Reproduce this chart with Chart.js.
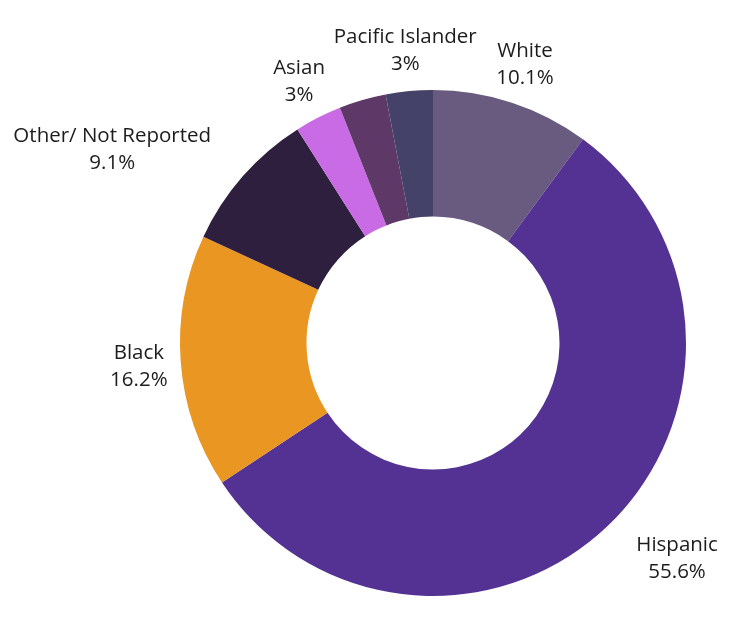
<!DOCTYPE html>
<html>
<head>
<meta charset="utf-8">
<script src="https://cdn.jsdelivr.net/npm/chart.js@4/dist/chart.umd.min.js"></script>
<style>
  html, body { margin: 0; padding: 0; background: #ffffff; }
  #wrap { width: 729px; height: 621px; }
</style>
</head>
<body>
<div id="wrap"><canvas id="raceChart" width="729" height="621"></canvas></div>
<script>
// data (one small slice has no visible label)
const categories = ['White', 'Hispanic', 'Black', 'Other/ Not Reported', 'Asian', '', 'Pacific Islander'];
const shares = [10.1, 55.6, 16.2, 9.1, 3, 3, 3];
const shareLabels = ['10.1%', '55.6%', '16.2%', '9.1%', '3%', '', '3%'];

const sliceColors = ['#695a80', '#533293', '#e99623', '#2e1f3f', '#c96be5', '#5e3866', '#454269'];
// how each label block sits against its anchor point
const labelAlign = ['center', 'left', 'center', 'right', 'center', 'center', 'center'];

const outsideLabels = {
    id: 'outsideLabels',
    afterDatasetsDraw(chart) {
        const ctx = chart.ctx;
        const arcs = chart.getDatasetMeta(0).data;
        ctx.save();
        ctx.font = '20.5px "Open Sans", sans-serif';
        ctx.fillStyle = '#1c1c1c';
        ctx.textBaseline = 'middle';
        arcs.forEach(function(arc, i) {
            if (!categories[i]) return;
            const p = arc.getProps(['x', 'y', 'startAngle', 'endAngle', 'outerRadius'], true);
            const mid = (p.startAngle + p.endAngle) / 2;
            const r = p.outerRadius + 42;
            const ax = p.x + Math.cos(mid) * r;
            const ay = p.y + Math.sin(mid) * r + 1.5;
            const lines = [categories[i], shareLabels[i]];
            const w = Math.max.apply(null, lines.map(t => ctx.measureText(t).width));
            let cx = ax;
            if (labelAlign[i] === 'left') cx = ax + w / 2;
            if (labelAlign[i] === 'right') cx = ax - w / 2;
            ctx.textAlign = 'center';
            ctx.fillText(lines[0], cx, ay - 13.5);
            ctx.fillText(lines[1], cx, ay + 13.5);
        });
        ctx.restore();
    }
};

new Chart(document.getElementById('raceChart').getContext('2d'), {
    type: 'doughnut',
    data: {
        labels: categories,
        datasets: [{
            data: shares,
            backgroundColor: sliceColors,
            borderWidth: 0
        }]
    },
    options: {
        responsive: false,
        animation: false,
        cutout: '50%',
        layout: {
            padding: { left: 180, right: 43, top: 90, bottom: 25 }
        },
        plugins: {
            legend: { display: false },
            tooltip: { enabled: false }
        }
    },
    plugins: [outsideLabels]
});
</script>
</body>
</html>
